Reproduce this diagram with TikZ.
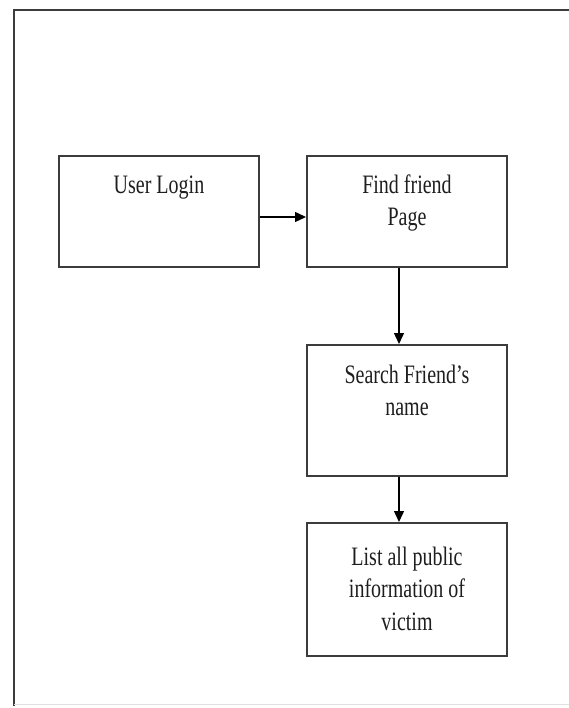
\documentclass[tikz,border=0pt]{standalone}
\usepackage{fontspec}
\setmainfont{Liberation Serif}
\usetikzlibrary{arrows.meta}
\definecolor{linegray}{HTML}{3C3C3C}
\definecolor{textgray}{HTML}{1E1E1E}
\newcommand{\boxtext}[1]{\scalebox{1}[1.33]{\fontsize{20}{24.5}\selectfont\begin{tabular}{@{}c@{}}#1\end{tabular}}}
\begin{document}
\begin{tikzpicture}[x=1pt,y=-1pt,
  stepbox/.style={draw=linegray, line width=2pt, rectangle, minimum width=200pt, inner sep=0pt},
  boxlabel/.style={anchor=north, inner sep=0pt, text=textgray},
  flow/.style={draw=black, line width=1.4pt, -{Triangle[length=11pt,width=10pt]}},
  frame/.style={draw=linegray, line width=1.6pt}]
\useasboundingbox (0,0) rectangle (569,708);
\fill[white] (0,0) rectangle (569,708);
% outer frame
\coordinate (fTL) at (14,10);
\coordinate (fTR) at (569,10);
\coordinate (fBL) at (14,706);
\coordinate (fBR) at (569,704);
\draw[frame] (fTR) -- (fTL) -- (fBL);
\draw[draw=gray!25, line width=1pt] (14,704) -- (fBR);
% boxes
\node[stepbox, minimum height=111pt,
  label={[boxlabel, yshift=-15pt]north:\boxtext{User Login}}] (ul) at (159,211.5) {};
\node[stepbox, minimum height=111pt,
  label={[boxlabel, yshift=-15pt]north:\boxtext{Find friend\\Page}}] (ff) at (407,211.5) {};
\node[stepbox, minimum height=131pt,
  label={[boxlabel, yshift=-16pt]north:\boxtext{Search Friend’s\\name}}] (sf) at (407,410.5) {};
\node[stepbox, minimum height=133pt,
  label={[boxlabel, yshift=-20pt]north:\boxtext{List all public\\information of\\victim}}] (li) at (407,589.5) {};
% connectors
\draw[flow] ([yshift=-5.5pt]ul.east) -- ([yshift=-5.5pt]ff.west);
\draw[flow] ([xshift=-8pt]ff.south) -- ([xshift=-8pt]sf.north);
\draw[flow] ([xshift=-8pt]sf.south) -- ([xshift=-8pt]li.north);
\end{tikzpicture}
\end{document}
